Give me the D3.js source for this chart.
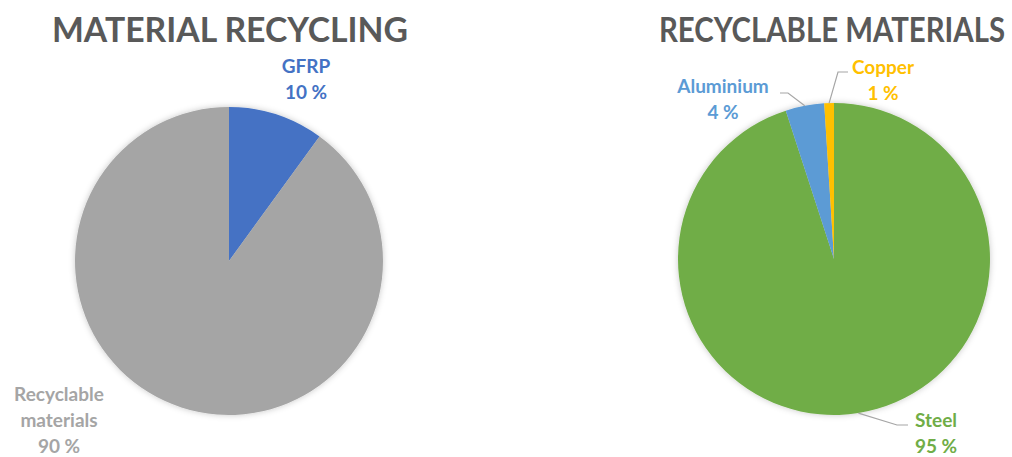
<!DOCTYPE html>
<html>
<head>
<meta charset="utf-8">
<script src="https://cdn.jsdelivr.net/npm/d3@7"></script>
<style>
  html, body { margin: 0; padding: 0; background: #fff; }
  svg { display: block; }
  text { font-family: Lato, "Open Sans", sans-serif; font-weight: 700; }
</style>
</head>
<body>
<svg id="chart" width="1012" height="457"></svg>
<script>
// Share of material that can be recycled
const recyclingCategories = ["GFRP", "Recyclable materials"];
const recyclingValues = [10, 90];
const recyclingLabelLines = [["GFRP", "10 %"], ["Recyclable", "materials", "90 %"]];

// Breakdown of the recyclable materials
const materialCategories = ["Steel", "Aluminium", "Copper"];
const materialValues = [95, 4, 1];
const materialLabelLines = [["Steel", "95 %"], ["Aluminium", "4 %"], ["Copper", "1 %"]];

const titles = ["MATERIAL RECYCLING", "RECYCLABLE MATERIALS"];

const svg = d3.select("#chart");

const defs = svg.append("defs");
defs.append("filter").attr("id", "soft").attr("x", "-10%").attr("y", "-10%")
  .attr("width", "120%").attr("height", "120%")
  .append("feDropShadow").attr("dx", 0).attr("dy", 0)
  .attr("stdDeviation", 3).attr("flood-color", "#000").attr("flood-opacity", 0.22);

function drawPie(opts) {
  const g = svg.append("g").attr("transform", `translate(${opts.cx},${opts.cy})`);
  const pie = d3.pie().sort(null).value(d => d.value);
  const arcs = pie(opts.categories.map((c, i) => ({ name: c, value: opts.values[i] })));
  const arc = d3.arc().innerRadius(0).outerRadius(opts.r);
  const color = d3.scaleOrdinal().domain(opts.categories).range(opts.colors);

  g.append("g").attr("filter", "url(#soft)")
    .selectAll("path").data(arcs).join("path")
    .attr("d", arc)
    .attr("fill", d => color(d.data.name));

  // leader lines from the rim of a slice towards its label
  arcs.forEach((d, i) => {
    const lay = opts.labels[i];
    if (!lay.leader) return;
    const mid = (d.startAngle + d.endAngle) / 2;
    const p0 = [opts.r * Math.sin(mid), -opts.r * Math.cos(mid)];
    const pts = [p0].concat(lay.leader);
    g.append("path")
      .attr("d", d3.line()(pts))
      .attr("fill", "none")
      .attr("stroke", "#a6a6a6")
      .attr("stroke-width", 1.2);
  });

  arcs.forEach((d, i) => {
    const lay = opts.labels[i];
    const t = g.append("text")
      .attr("text-anchor", "middle")
      .attr("font-size", opts.labelSize)
      .attr("fill", opts.labelColors[i]);
    opts.lines[i].forEach((line, k) => {
      t.append("tspan")
        .attr("x", lay.x)
        .attr("y", lay.y + k * opts.lineGap)
        .text(line);
    });
  });

  // title, fitted to the wanted width
  svg.append("text")
    .attr("x", opts.cx + opts.titleDx)
    .attr("y", 42)
    .attr("text-anchor", "middle")
    .attr("font-size", 35)
    .attr("fill", "#595959")
    .attr("textLength", opts.titleWidth)
    .attr("lengthAdjust", "spacingAndGlyphs")
    .text(opts.title);
}

drawPie({
  cx: 229, cy: 261, r: 154,
  categories: recyclingCategories,
  values: recyclingValues,
  lines: recyclingLabelLines,
  colors: ["#4472C4", "#A5A5A5"],
  labelColors: ["#4472C4", "#A5A5A5"],
  labelSize: 19, lineGap: 26,
  labels: [
    { x: 77, y: -188 },
    { x: -170, y: 140 }
  ],
  title: titles[0], titleDx: 1, titleWidth: 356
});

drawPie({
  cx: 834, cy: 259, r: 156,
  categories: materialCategories,
  values: materialValues,
  lines: materialLabelLines,
  colors: ["#70AD47", "#5B9BD5", "#FFC000"],
  labelColors: ["#70AD47", "#5B9BD5", "#FFC000"],
  labelSize: 19, lineGap: 26,
  labels: [
    { x: 102, y: 168, leader: [[63, 166], [74, 166]] },
    { x: -111, y: -166, leader: [[-46, -166], [-54, -166]] },
    { x: 49, y: -185, leader: [[4, -187], [14, -187]] }
  ],
  title: titles[1], titleDx: -2, titleWidth: 346
});
</script>
</body>
</html>
